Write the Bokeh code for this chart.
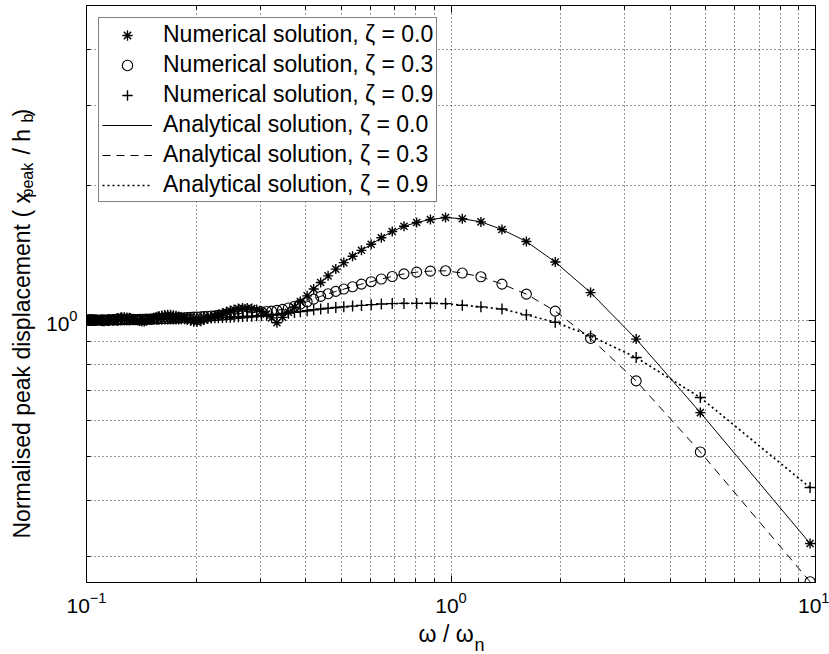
import math
from bokeh.plotting import figure
from bokeh.layouts import row, column
from bokeh.models import (Range1d, FixedTicker, LogAxis, Legend, LegendItem,
                          ColumnDataSource, CustomJSTickFormatter)
from bokeh.core.properties import value
from bokeh.embed import file_html
from bokeh.resources import INLINE

# ---------------- data ----------------
freq_ratio = [
    9.662, 4.831, 3.221, 2.415, 1.932, 1.610, 1.380, 1.208, 1.074, 0.966,
    0.878, 0.805, 0.743, 0.690, 0.644, 0.604, 0.568, 0.537, 0.508, 0.483,
    0.460, 0.439, 0.420, 0.403, 0.386, 0.372, 0.358, 0.345, 0.333, 0.322,
    0.312, 0.302, 0.293, 0.284, 0.276, 0.268, 0.261, 0.254, 0.248, 0.242,
    0.236, 0.230, 0.225, 0.220, 0.215, 0.210, 0.206, 0.201, 0.197, 0.193,
    0.189, 0.186, 0.182, 0.179, 0.176, 0.173, 0.170, 0.167, 0.164, 0.161,
    0.158, 0.156, 0.153, 0.151, 0.149, 0.146, 0.144, 0.142, 0.140, 0.138,
    0.136, 0.134, 0.132, 0.131, 0.129, 0.127, 0.125, 0.124, 0.122, 0.121,
    0.119, 0.118, 0.116, 0.115, 0.114, 0.112, 0.111, 0.110, 0.109, 0.107,
    0.106, 0.105, 0.104, 0.103, 0.102, 0.101,
]

peak_zeta_00 = [
    0.321, 0.626, 0.911, 1.155, 1.350, 1.499, 1.594, 1.657, 1.684, 1.694,
    1.677, 1.652, 1.620, 1.578, 1.528, 1.478, 1.433, 1.390, 1.346, 1.302,
    1.258, 1.216, 1.176, 1.136, 1.104, 1.072, 1.045, 1.018, 0.990, 1.015,
    1.035, 1.050, 1.060, 1.065, 1.067, 1.067, 1.065, 1.060, 1.054, 1.047,
    1.040, 1.032, 1.025, 1.018, 1.011, 1.004, 0.998, 0.994, 0.995, 1.000,
    1.006, 1.012, 1.017, 1.022, 1.026, 1.029, 1.031, 1.031, 1.030, 1.028,
    1.025, 1.021, 1.016, 1.011, 1.006, 1.001, 0.997, 0.996, 0.999, 1.003,
    1.007, 1.011, 1.014, 1.016, 1.017, 1.018, 1.018, 1.017, 1.015, 1.013,
    1.010, 1.007, 1.004, 1.001, 0.999, 0.998, 0.998, 1.000, 1.002, 1.004,
    1.006, 1.008, 1.009, 1.010, 1.010, 1.009,
]

peak_zeta_03 = [
    0.264, 0.512, 0.736, 0.914, 1.051, 1.146, 1.206, 1.252, 1.276, 1.291,
    1.289, 1.282, 1.271, 1.254, 1.238, 1.221, 1.206, 1.190, 1.176, 1.162,
    1.148, 1.133, 1.117, 1.102, 1.089, 1.077, 1.068, 1.060, 1.055, 1.051,
    1.049, 1.047, 1.045, 1.043, 1.041, 1.039, 1.037, 1.035, 1.033, 1.031,
    1.029, 1.028, 1.026, 1.025, 1.024, 1.022, 1.021, 1.020, 1.019, 1.018,
    1.017, 1.016, 1.015, 1.015, 1.014, 1.013, 1.013, 1.012, 1.012, 1.011,
    1.011, 1.010, 1.010, 1.009, 1.009, 1.009, 1.008, 1.008, 1.008, 1.007,
    1.007, 1.007, 1.007, 1.006, 1.006, 1.006, 1.006, 1.006, 1.005, 1.005,
    1.005, 1.005, 1.005, 1.005, 1.004, 1.004, 1.004, 1.004, 1.004, 1.004,
    1.004, 1.003, 1.003, 1.003, 1.003, 1.003,
]

peak_zeta_09 = [
    0.427, 0.676, 0.829, 0.926, 0.993, 1.031, 1.062, 1.074, 1.083, 1.092,
    1.094, 1.093, 1.093, 1.092, 1.090, 1.086, 1.082, 1.078, 1.074, 1.070,
    1.066, 1.062, 1.058, 1.053, 1.048, 1.044, 1.040, 1.036, 1.033, 1.031,
    1.029, 1.027, 1.026, 1.024, 1.023, 1.022, 1.021, 1.020, 1.019, 1.018,
    1.017, 1.016, 1.016, 1.015, 1.014, 1.014, 1.013, 1.013, 1.012, 1.012,
    1.011, 1.011, 1.011, 1.010, 1.010, 1.010, 1.009, 1.009, 1.009, 1.008,
    1.008, 1.008, 1.008, 1.007, 1.007, 1.007, 1.007, 1.006, 1.006, 1.006,
    1.006, 1.006, 1.005, 1.005, 1.005, 1.005, 1.005, 1.005, 1.004, 1.004,
    1.004, 1.004, 1.004, 1.004, 1.004, 1.003, 1.003, 1.003, 1.003, 1.003,
    1.003, 1.003, 1.003, 1.003, 1.002, 1.002,
]

x_major_ticks = [0.1, 1, 10]
x_minor_ticks = [0.2, 0.3, 0.4, 0.5, 0.6, 0.7, 0.8, 0.9, 2, 3, 4, 5, 6, 7, 8, 9]
y_major_ticks = [1]
y_minor_ticks = [0.3, 0.4, 0.5, 0.6, 0.7, 0.8, 0.9, 2, 3, 4]

legend_labels = [
    "Numerical solution, ζ = 0.0",
    "Numerical solution, ζ = 0.3",
    "Numerical solution, ζ = 0.9",
    "Analytical solution, ζ = 0.0",
    "Analytical solution, ζ = 0.3",
    "Analytical solution, ζ = 0.9",
]

assert len(freq_ratio) == len(peak_zeta_00) == len(peak_zeta_03) == len(peak_zeta_09)

FONT = "Liberation Sans"
W, H = 829, 654
STRIP_W = 42      # left strip holding the y title
MAIN_H = 620      # main plot height; the rest is the x-title strip

src = ColumnDataSource(dict(x=freq_ratio, y0=peak_zeta_00, y3=peak_zeta_03, y9=peak_zeta_09))

p = figure(width=W - STRIP_W, height=MAIN_H, x_axis_type="log", y_axis_type="log",
           x_range=Range1d(0.1, 10), y_range=Range1d(0.263, 5.0),
           output_backend="svg", toolbar_location=None,
           min_border_left=86 - STRIP_W, min_border_right=14, min_border_top=5,
           min_border_bottom=MAIN_H - 582)
p.background_fill_color = "white"
p.border_fill_color = "white"
p.outline_line_color = "black"
p.outline_line_width = 1

xt = FixedTicker(ticks=x_major_ticks, minor_ticks=x_minor_ticks)
yt = FixedTicker(ticks=y_major_ticks, minor_ticks=y_minor_ticks)

def style_axis(ax, show_labels=True):
    ax.axis_line_color = "black"
    ax.major_tick_in = 7
    ax.major_tick_out = 0
    ax.minor_tick_in = 4
    ax.minor_tick_out = 0
    ax.major_tick_line_color = "black"
    ax.minor_tick_line_color = "black"
    ax.major_label_text_font = FONT
    ax.major_label_text_color = "black"
    ax.major_label_text_font_size = "21px"
    if show_labels:
        ax.major_label_standoff = 9
    else:
        ax.formatter = CustomJSTickFormatter(code="return ''")
        ax.major_label_standoff = 0

p.xaxis.ticker = xt
p.yaxis.ticker = yt
style_axis(p.xaxis[0])
style_axis(p.yaxis[0])
p.xgrid.ticker = xt
p.ygrid.ticker = yt
for g in (p.xgrid, p.ygrid):
    g.grid_line_color = "black"
    g.grid_line_dash = "1 3"
    g.grid_line_alpha = 0.8
    g.minor_grid_line_color = "black"
    g.minor_grid_line_dash = "1 3"
    g.minor_grid_line_alpha = 0.8

top_ax = LogAxis(ticker=xt)
right_ax = LogAxis(ticker=yt)
style_axis(top_ax, False)
style_axis(right_ax, False)
p.add_layout(top_ax, "above")
p.add_layout(right_ax, "right")

# analytical lines
l0 = p.line("x", "y0", source=src, line_color="black", line_width=1)
l3 = p.line("x", "y3", source=src, line_color="black", line_width=1, line_dash="8 6")
l9 = p.line("x", "y9", source=src, line_color="black", line_width=1.7, line_dash="2 3")

# numerical markers
s0 = p.scatter("x", "y0", source=src, marker="asterisk", size=10, line_color="black", line_width=1.4)
s3 = p.scatter("x", "y3", source=src, marker="circle", size=10, line_color="black",
               fill_color=None, line_width=1.1)
s9 = p.scatter("x", "y9", source=src, marker="cross", size=11, line_color="black", line_width=1.4)

legend = Legend(items=[
    LegendItem(label=legend_labels[0], renderers=[s0]),
    LegendItem(label=legend_labels[1], renderers=[s3]),
    LegendItem(label=legend_labels[2], renderers=[s9]),
    LegendItem(label=legend_labels[3], renderers=[l0]),
    LegendItem(label=legend_labels[4], renderers=[l3]),
    LegendItem(label=legend_labels[5], renderers=[l9]),
], location="top_left", margin=12, padding=3, spacing=3, label_height=26, glyph_height=26,
   glyph_width=50, label_standoff=11)
legend.label_text_font = FONT
legend.label_text_font_size = "23px"
legend.label_text_color = "black"
legend.border_line_color = "black"
legend.border_line_width = 1
legend.background_fill_color = "white"
legend.background_fill_alpha = 1.0
p.add_layout(legend)


def strip(width, height):
    # a bare figure whose data units are its own pixels (x right, y up)
    f = figure(width=width, height=height, output_backend="svg", toolbar_location=None,
               x_range=Range1d(0, width), y_range=Range1d(0, height),
               x_axis_location=None, y_axis_location=None, min_border=0)
    f.outline_line_color = None
    f.grid.visible = False
    f.background_fill_color = "white"
    f.border_fill_color = "white"
    return f


def lab(f, fh, ox, cx, cy, text, size, align, angle=0.0):
    # cx, cy: page position (px from the top-left of the whole page)
    f.text(x=[cx - ox], y=[fh - cy], text=[text], angle=angle,
           text_align=align, text_baseline="alphabetic",
           text_font=value(FONT), text_font_size=value(size), text_color="black")

# y title strip: "Normalised peak displacement ( x_peak / h_b )"
# (positions corrected for the renderer's observed ~10px offset)
ys = strip(STRIP_W, H)
rot = math.pi / 2
lab(ys, H, 0, 21, 538, "Normalised peak displacement ( x", "23px", "left", rot)
lab(ys, H, 0, 27, 197, "peak", "16px", "left", rot)
lab(ys, H, 0, 21, 122, " / h", "23px", "right", rot)
lab(ys, H, 0, 27, 122, "b", "16px", "left", rot)
lab(ys, H, 0, 21, 102, " )", "23px", "right", rot)

# x title strip: "ω / ω_n"
XS_H = H - MAIN_H
xs = strip(W - STRIP_W, XS_H)
lab(xs, XS_H, STRIP_W, 460, 633 - MAIN_H, "ω / ω", "23px", "right")
lab(xs, XS_H, STRIP_W, 461, 644 - MAIN_H, "n", "18px", "left")

layout = row(ys, column(p, xs, spacing=0), spacing=0)
open("out.html", "w").write(file_html(layout, INLINE))
